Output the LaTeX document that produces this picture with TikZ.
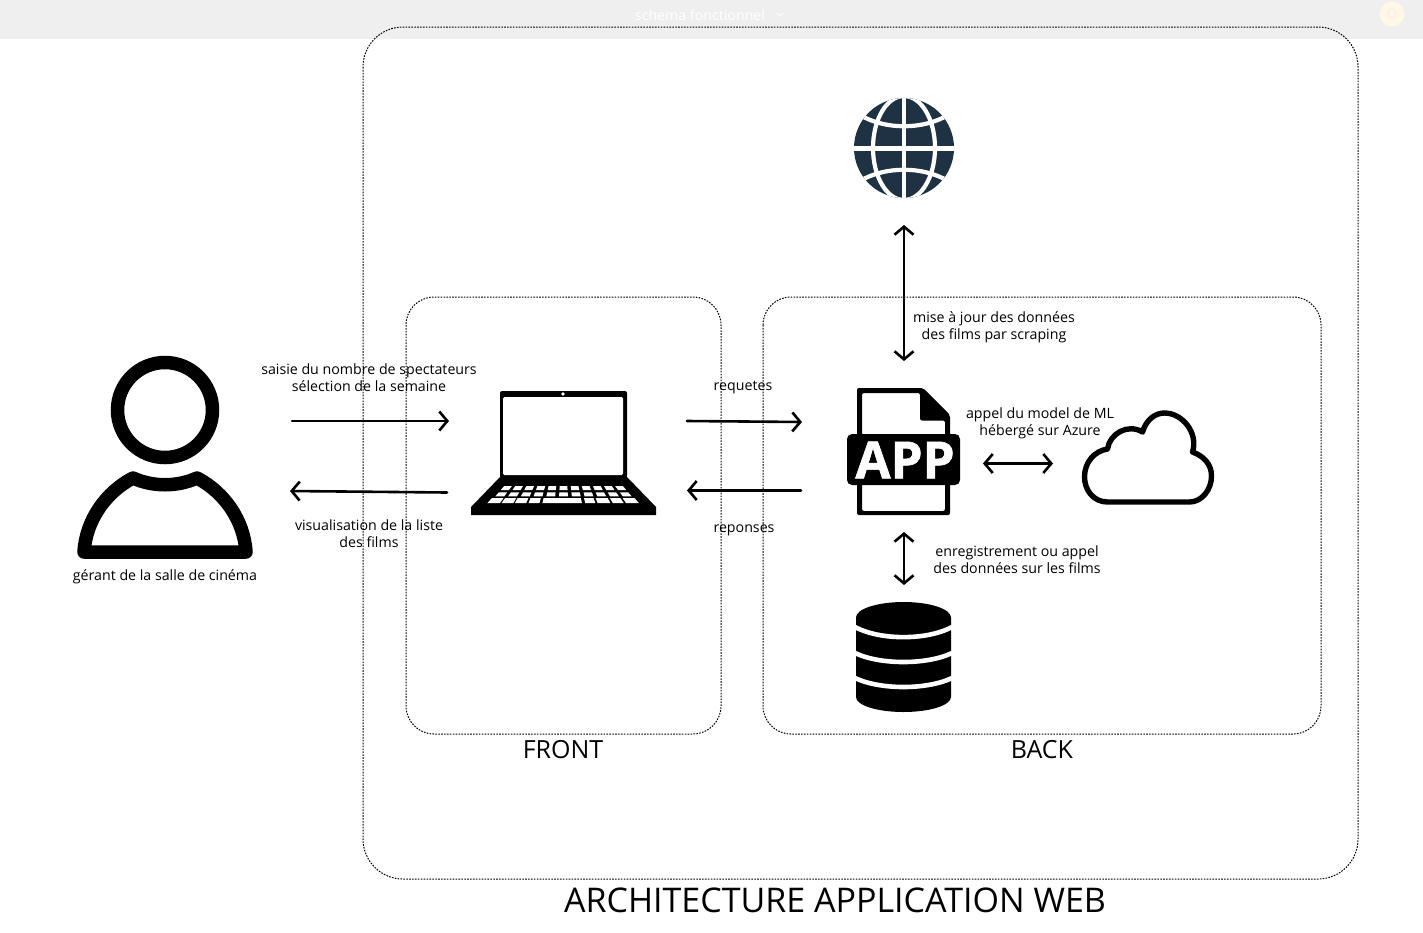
\documentclass[tikz,border=0pt]{standalone}
\usepackage{fontspec}
\setmainfont{Open Sans}
\newfontfamily\appfont[FakeBold=1.2]{Open Sans Bold}
\usetikzlibrary{arrows.meta}
\definecolor{barc}{HTML}{EFEFEF}
\definecolor{globec}{HTML}{1F3243}
\definecolor{badge}{HTML}{FFF8E6}
\tikzset{
  frame/.style={draw=black,line width=1pt,dash pattern=on 1.6pt off 1.3pt,rounded corners=#1},
  link/.style={line width=2.6pt,-{Straight Barb[length=8pt,width=19pt,line width=2.6pt]},line cap=round},
  dlink/.style={line width=2.6pt,{Straight Barb[length=8pt,width=19pt,line width=2.6pt]}-{Straight Barb[length=8pt,width=19pt,line width=2.6pt]},line cap=round},
  lab/.style={align=center,inner sep=0pt,font=\fontsize{14.2}{17}\selectfont},
  sect/.style={inner sep=0pt,font=\fontsize{25}{30}\selectfont},
  ttl/.style={inner sep=0pt,font=\fontsize{34}{40}\selectfont},
  globeline/.style={draw=white,line width=4.2pt},
  dbline/.style={draw=white,line width=4.6pt},
}
\newcommand{\keyq}[4]{\fill[white]
  ({563.5+#1*(61+(#3-486)*.88)},#3) -- ({563.5+#2*(61+(#3-486)*.88)},#3) --
  ({563.5+#2*(61+(#4-486)*.88)},#4) -- ({563.5+#1*(61+(#4-486)*.88)},#4) -- cycle;}
\begin{document}
\begin{tikzpicture}[x=1pt,y=-1pt]
\useasboundingbox (0,0) rectangle (1423,932);
\fill[white] (0,0) rectangle (1423,932);
% top bar
\fill[barc] (0,0) rectangle (1423,39);
\node[inner sep=0pt,text=white,font=\fontsize{14.2}{18}\selectfont] (tabname) at (700,15) {schema fonctionnel};
\draw[white,line width=1pt] (777,13) -- (780,16) -- (783,13);
\node[circle,fill=badge,minimum size=25pt,inner sep=0pt,text=barc,font=\fontsize{13}{15}\selectfont] (badgeo) at (1392,14) {O};
% frames
\draw[frame=40pt] (363,27) rectangle (1358,879);
\draw[frame=28pt] (406,297) rectangle (721,734);
\draw[frame=28pt] (763,297) rectangle (1321,734);
% globe
\begin{scope}
\fill[globec] (904,148) circle[radius=50];
\clip (904,148) circle[radius=50];
\draw[globeline] (904,90) -- (904,205);
\draw[globeline] (850,148.5) -- (960,148.5);
\draw[globeline] (904,148) ellipse[x radius=31,y radius=52];
\draw[globeline] (860,115) .. controls (885,130) and (923,130) .. (948,115);
\draw[globeline] (860,181) .. controls (885,166) and (923,166) .. (948,181);
\end{scope}
% person
\draw[line width=13.5pt] (165,410) circle[radius=47.5];
\draw[line width=13.5pt,line join=round]
  (84,552) .. controls (86,520) and (106,492) .. (133,478)
  .. controls (153,487) and (177,487) .. (197,478)
  .. controls (224,492) and (244,520) .. (246,552) -- cycle;
% laptop
\fill[black,rounded corners=2pt] (500,478) -- (500,391) -- (627,391) -- (627,478) -- cycle;
\fill[white,rounded corners=1.5pt] (503,397) rectangle (623,475);
\fill[white] (563,394) circle[radius=1.8];
\fill[black] (500,477) -- (627,477) -- (656,507) -- (656,515) -- (471,515) -- (471,507) -- cycle;
\foreach \i in {0,...,10}{
  \pgfmathsetmacro{\ua}{-1+2*\i/11+.028}
  \pgfmathsetmacro{\ub}{-1+2*(\i+1)/11-.028}
  \keyq{\ua}{\ub}{486}{490}
  \keyq{\ua}{\ub}{492.3}{496.3}
}
\foreach \ua/\ub in {-1/-.837,-.815/-.66,-.64/-.49,-.46/-.317,-.278/.242,.286/.419,.449/.617,.648/.793,.824/.991}{
  \keyq{\ua}{\ub}{498.2}{503.2}
}
% app
\fill[black,even odd rule,rounded corners=2pt]
  (857,388) -- (923,388) -- (950,415) -- (950,515) -- (857,515) -- cycle
  (862,393) -- (920,393) -- (920,420.5) -- (945,420.5) -- (945,511) -- (862,511) -- cycle;
\fill[black,rounded corners=5pt] (847,434) rectangle (960,485);
\node[inner sep=0pt,text=white,font=\appfont\fontsize{51}{52}\selectfont] (apptext) at (905,460) {APP};
% cloud
\draw[line width=5.4pt,line join=round]
  (1107.5,502) .. controls (1093.5,502) and (1084.5,490) .. (1084.5,477)
  .. controls (1084.5,462) and (1094.5,451) .. (1107.5,449)
  .. controls (1109.5,434) and (1127.5,423) .. (1142.5,432)
  .. controls (1146.5,419) and (1155.5,413) .. (1164.5,413)
  .. controls (1182.5,413) and (1198.5,433) .. (1192.5,452)
  .. controls (1203.5,456) and (1211.5,464) .. (1211.5,476)
  .. controls (1211.5,490) and (1201.5,502) .. (1189.5,502) -- cycle;
% database
\fill[black] (903.5,617.5) ellipse[x radius=47.5,y radius=15.5];
\fill[black] (856,617.5) -- (951,617.5) -- (951,697) arc[start angle=0,end angle=180,x radius=47.5,y radius=15] -- cycle;
\draw[dbline] (855,627) .. controls (880,640.5) and (927,640.5) .. (952,627);
\draw[dbline] (855,653) .. controls (880,665) and (927,665) .. (952,653);
\draw[dbline] (855,678) .. controls (880,690) and (927,690) .. (952,678);
% connector ends
\coordinate (userOut) at (292,421);
\coordinate (laptopIn) at (449,421);
\coordinate (laptopOut) at (447,492.5);
\coordinate (userIn) at (290,491);
\coordinate (frontOut) at (687,421);
\coordinate (appIn) at (802,422);
\coordinate (appOut) at (801,490.5);
\coordinate (frontIn) at (687,490.5);
\coordinate (globeEnd) at (904,225);
\coordinate (appTop) at (904,361);
\coordinate (appBottom) at (904,532);
\coordinate (dbTop) at (904,585);
\coordinate (appRight) at (983,463.5);
\coordinate (cloudLeft) at (1053,463.5);
% connectors
\draw[link] (userOut) -- (laptopIn);
\draw[link] (laptopOut) -- (userIn);
\draw[link] (frontOut) -- (appIn);
\draw[link] (appOut) -- (frontIn);
\draw[dlink] (globeEnd) -- (appTop);
\draw[dlink] (appBottom) -- (dbTop);
\draw[dlink] (appRight) -- (cloudLeft);
% labels
\node[lab] (l1) at (369,377.5) {saisie du nombre de spectateurs\\sélection de la semaine};
\node[lab] (l2) at (369,533.5) {visualisation de la liste\\des films};
\node[lab] (l3) at (743,388) {requetes};
\node[lab] (l4) at (744,530) {reponses};
\node[lab] (l5) at (994,327.5) {mise à jour des données\\des films par scraping};
\node[lab] (l6) at (1040,423.5) {appel du model de ML\\hébergé sur Azure};
\node[lab] (l7) at (1017,559.5) {enregistrement ou appel\\des données sur les films};
\node[lab] (l8) at (165,577) {gérant de la salle de cinéma};
\node[sect] (front) at (563,750) {FRONT};
\node[sect] (back) at (1042,750) {BACK};
\node[ttl] (title) at (835,900) {ARCHITECTURE APPLICATION WEB};
\end{tikzpicture}
\end{document}
